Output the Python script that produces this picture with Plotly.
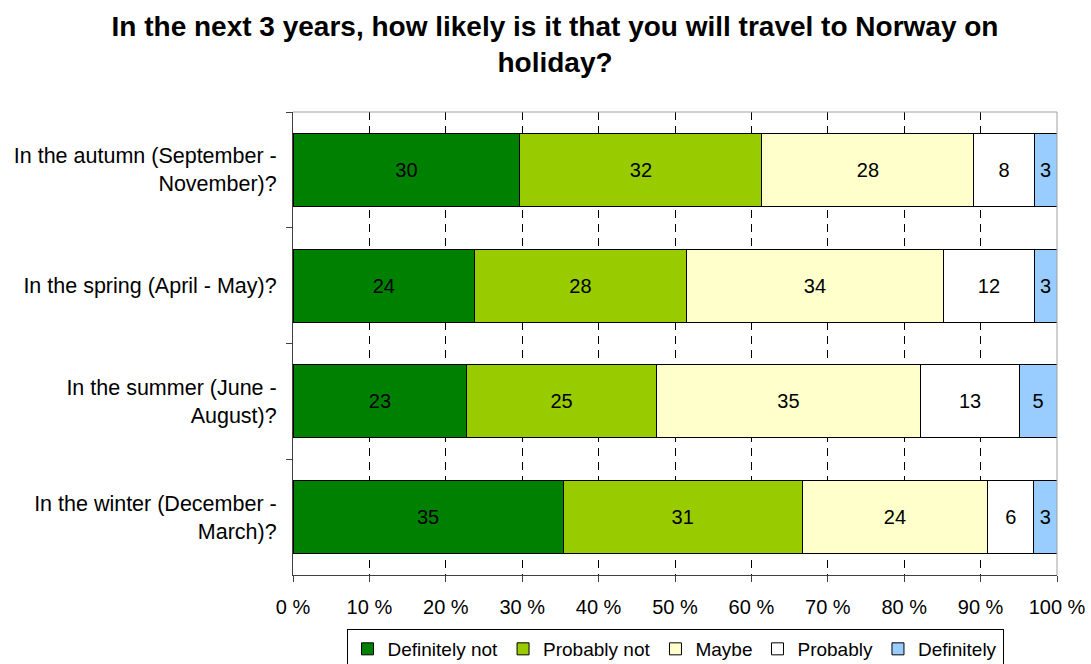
import plotly.graph_objects as go

# Survey seasons (top to bottom) and answer shares per season
seasons = [
    "In the autumn (September -<br>November)?",
    "In the spring (April - May)?",
    "In the summer (June -<br>August)?",
    "In the winter (December -<br>March)?",
]
answers = ["Definitely not", "Probably not", "Maybe", "Probably", "Definitely"]
definitely_not = [30, 24, 23, 35]
probably_not = [32, 28, 25, 31]
maybe = [28, 34, 35, 24]
probably = [8, 12, 13, 6]
definitely = [3, 3, 5, 3]

series = [definitely_not, probably_not, maybe, probably, definitely]
colors = ["#008000", "#99CC00", "#FFFFCC", "#FFFFFF", "#99CCFF"]

x_ticks = list(range(0, 101, 10))
x_tick_labels = [f"{v} %" for v in x_ticks]

FONT = "Liberation Sans, Arial, sans-serif"

fig = go.Figure()
for name, vals, col in zip(answers, series, colors):
    fig.add_trace(go.Bar(
        name=name,
        y=seasons,
        x=vals,
        orientation="h",
        marker=dict(color=col, line=dict(color="black", width=1)),
        text=[str(v) for v in vals],
        textposition="inside",
        insidetextanchor="middle",
        textfont=dict(color="black", size=20, family=FONT),
        hoverinfo="skip",
    ))

fig.update_layout(
    barmode="stack",
    barnorm="percent",
    bargap=0.37,
    width=1091,
    height=664,
    margin=dict(l=293, r=34, t=112, b=89, autoexpand=False),
    paper_bgcolor="white",
    plot_bgcolor="white",
    font=dict(family=FONT, size=20, color="black"),
    title=dict(
        text="<b>In the next 3 years, how likely is it that you will travel to Norway on<br>holiday?</b>",
        font=dict(family=FONT, size=28, color="black"),
        x=555 / 1091,
        xanchor="center",
        xref="container",
        y=1 - 35.5 / 664,
        yanchor="middle",
        yref="container",
    ),
    legend=dict(
        orientation="h",
        x=0.5,
        xanchor="center",
        y=-0.1166,
        yanchor="top",
        bordercolor="black",
        borderwidth=1,
        font=dict(family=FONT, size=19, color="black"),
        itemwidth=30,
        traceorder="normal",
    ),
    showlegend=True,
)

fig.update_xaxes(
    range=[0, 100],
    tickvals=x_ticks,
    ticktext=x_tick_labels,
    ticks="outside",
    ticklen=6,
    tickcolor="#404040",
    showline=True,
    linecolor="#404040",
    linewidth=1,
    showgrid=True,
    gridcolor="black",
    gridwidth=1,
    griddash="8px,6px",
    zeroline=False,
    automargin=False,
    ticklabelstandoff=8,
    tickfont=dict(size=20),
)

fig.update_yaxes(
    autorange="reversed",
    type="category",
    ticks="outside",
    tickson="boundaries",
    ticklen=6,
    tickcolor="#404040",
    showline=True,
    linecolor="#404040",
    linewidth=1,
    showgrid=False,
    zeroline=False,
    automargin=False,
    ticklabelstandoff=11,
    tickfont=dict(size=21.5),
)

# light frame on the top and right edges of the plot area
fig.add_shape(type="line", xref="x domain", yref="y domain",
              x0=0, x1=1, y0=1, y1=1, line=dict(color="#A0A0A0", width=1))
fig.add_shape(type="line", xref="x domain", yref="y domain",
              x0=1, x1=1, y0=0, y1=1, line=dict(color="#A0A0A0", width=1))

fig.write_html("out.html")
